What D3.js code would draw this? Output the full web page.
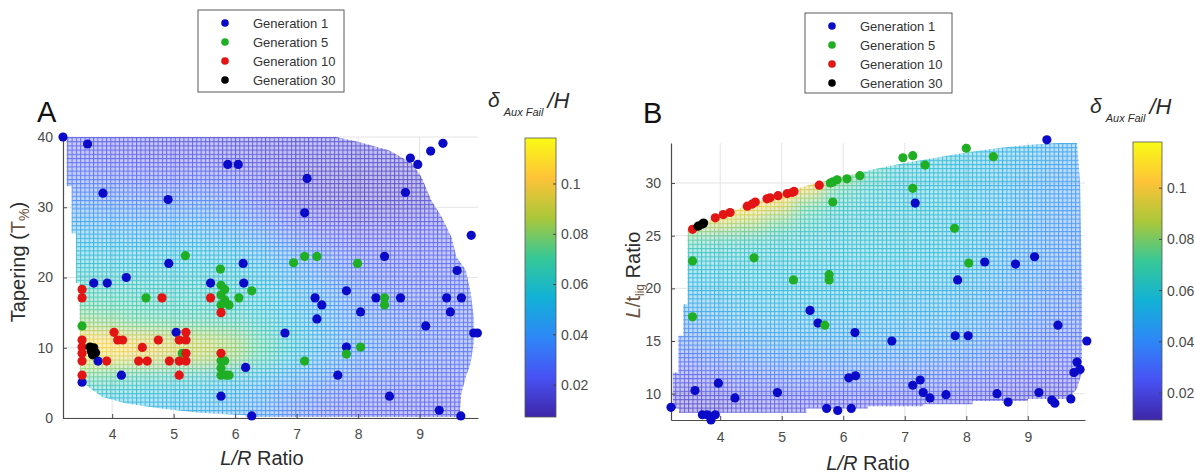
<!DOCTYPE html>
<html><head><meta charset="utf-8">
<script src="https://cdn.jsdelivr.net/npm/d3@7"></script>
<style>
body{margin:0;background:#fff;}
svg{display:block;font-family:"Liberation Sans",Arial,Helvetica,sans-serif;}
</style></head><body>
<svg id="chart" width="1195" height="474"></svg>
<script>
// ---------------- DATA ----------------
const legendLabels = ["Generation 1","Generation 5","Generation 10","Generation 30"];
const xTicks = [4,5,6,7,8,9];
const yTicksA = [0,10,20,30,40];
const yTicksB = [10,15,20,25,30];
const cbTicks = [0.02,0.04,0.06,0.08,0.1];
const cbTickLabels = ["0.02","0.04","0.06","0.08","0.1"];

// coarse grid of the interpolated response surface
const fieldXEdges = [3.2,3.7,4.2,4.7,5.2,5.7,6.2,6.7,7.2,7.7,8.2,8.7,9.2,9.7,10.2];
const fieldYEdgesA = [0,2.5,5,7.5,10,12.5,15,17.5,20,22.5,25,27.5,30,32.5,35,37.5,40];
const fieldYEdgesB = [7.5,9,10.5,12,13.5,15,16.5,18,19.5,21,22.5,24,25.5,27,28.5,30,31.5,33,34.5];
// rows listed top -> bottom
const fieldA = [
 [0.022,0.020,0.019,0.018,0.018,0.017,0.016,0.016,0.016,0.016,0.016,0.016,0.016,0.016],
 [0.025,0.023,0.021,0.020,0.020,0.019,0.017,0.015,0.014,0.014,0.014,0.014,0.015,0.015],
 [0.030,0.028,0.026,0.025,0.026,0.024,0.019,0.015,0.013,0.012,0.012,0.013,0.015,0.015],
 [0.036,0.034,0.032,0.032,0.033,0.030,0.022,0.016,0.013,0.012,0.012,0.014,0.017,0.017],
 [0.043,0.041,0.040,0.040,0.041,0.037,0.029,0.021,0.017,0.015,0.015,0.017,0.020,0.020],
 [0.049,0.048,0.047,0.047,0.047,0.044,0.037,0.029,0.023,0.020,0.020,0.021,0.023,0.023],
 [0.055,0.054,0.053,0.054,0.054,0.052,0.046,0.038,0.030,0.025,0.023,0.023,0.024,0.024],
 [0.059,0.058,0.057,0.057,0.057,0.056,0.051,0.044,0.036,0.029,0.026,0.025,0.025,0.025],
 [0.064,0.063,0.062,0.061,0.061,0.060,0.055,0.048,0.040,0.032,0.028,0.026,0.026,0.026],
 [0.070,0.068,0.066,0.064,0.063,0.062,0.057,0.051,0.043,0.035,0.030,0.027,0.026,0.026],
 [0.080,0.076,0.071,0.068,0.066,0.064,0.059,0.053,0.045,0.037,0.032,0.029,0.027,0.027],
 [0.105,0.103,0.097,0.092,0.087,0.082,0.070,0.057,0.047,0.039,0.034,0.030,0.028,0.028],
 [0.113,0.108,0.100,0.095,0.090,0.083,0.070,0.057,0.046,0.038,0.033,0.030,0.028,0.028],
 [0.075,0.072,0.068,0.065,0.062,0.058,0.052,0.045,0.038,0.032,0.029,0.027,0.026,0.026],
 [0.060,0.058,0.056,0.054,0.052,0.049,0.044,0.037,0.031,0.027,0.025,0.024,0.023,0.023],
 [0.055,0.053,0.051,0.050,0.048,0.045,0.039,0.032,0.027,0.024,0.022,0.021,0.021,0.021]
];
const fieldB = [
 [0.112,0.110,0.108,0.106,0.100,0.085,0.068,0.060,0.058,0.056,0.054,0.052,0.048,0.046],
 [0.112,0.110,0.108,0.106,0.100,0.085,0.068,0.060,0.057,0.055,0.053,0.050,0.046,0.044],
 [0.112,0.110,0.108,0.106,0.100,0.082,0.066,0.059,0.057,0.055,0.053,0.049,0.045,0.042],
 [0.112,0.110,0.108,0.106,0.095,0.068,0.061,0.058,0.057,0.055,0.052,0.048,0.044,0.041],
 [0.112,0.110,0.105,0.095,0.072,0.062,0.059,0.058,0.057,0.055,0.052,0.047,0.043,0.040],
 [0.110,0.095,0.085,0.075,0.064,0.060,0.059,0.058,0.057,0.055,0.051,0.046,0.042,0.039],
 [0.070,0.068,0.065,0.062,0.060,0.059,0.059,0.058,0.057,0.055,0.051,0.045,0.041,0.038],
 [0.062,0.061,0.060,0.059,0.059,0.058,0.058,0.057,0.056,0.054,0.050,0.044,0.040,0.037],
 [0.057,0.058,0.058,0.058,0.057,0.057,0.057,0.056,0.055,0.053,0.049,0.043,0.039,0.036],
 [0.053,0.055,0.056,0.056,0.056,0.056,0.055,0.054,0.053,0.051,0.047,0.042,0.038,0.035],
 [0.048,0.051,0.053,0.054,0.054,0.054,0.053,0.052,0.051,0.049,0.045,0.040,0.036,0.034],
 [0.043,0.047,0.050,0.051,0.051,0.051,0.051,0.050,0.049,0.047,0.043,0.038,0.034,0.032],
 [0.038,0.043,0.046,0.047,0.048,0.048,0.048,0.047,0.046,0.044,0.040,0.035,0.032,0.030],
 [0.033,0.037,0.041,0.043,0.044,0.044,0.044,0.043,0.042,0.040,0.036,0.032,0.029,0.028],
 [0.028,0.031,0.035,0.037,0.038,0.038,0.038,0.037,0.036,0.034,0.031,0.028,0.026,0.025],
 [0.022,0.025,0.028,0.030,0.031,0.031,0.031,0.030,0.029,0.028,0.026,0.024,0.022,0.022],
 [0.017,0.019,0.021,0.023,0.024,0.024,0.024,0.024,0.023,0.022,0.021,0.019,0.018,0.018],
 [0.014,0.016,0.018,0.019,0.020,0.020,0.020,0.020,0.019,0.018,0.017,0.016,0.015,0.015]
];
// outline of the evaluated design region
const regionA = [[3.26,40],[7.64,40],[8.01,39.3],[8.5,38.1],[8.87,36.3],[9.03,34.3],[9.19,31.0],[9.36,28.6],[9.52,25.7],[9.6,22.9],[9.75,21.1],[9.83,17.9],[9.88,14.4],[9.88,10.7],[9.83,7.8],[9.75,5.8],[9.68,3.5],[9.65,0.15],[6.17,0.15],[6.17,0.4],[5.41,0.75],[4.76,1.4],[4.22,2.1],[3.84,3.0],[3.68,4.0],[3.47,5.4],[3.47,19.2],[3.41,19.2],[3.41,26.3],[3.34,26.3],[3.34,33],[3.26,33]];
const regionB = [[3.23,8.6],[3.23,12],[3.32,12],[3.32,15.5],[3.4,15.5],[3.4,18.5],[3.47,18.5],[3.47,25.5],[3.7,26.2],[4.0,26.9],[4.5,28.0],[5.0,29.0],[5.5,29.9],[6.0,30.6],[6.5,31.3],[7.0,31.9],[7.5,32.4],[8.0,32.9],[8.5,33.3],[9.0,33.6],[9.5,33.8],[9.8,33.8],[9.85,30],[9.88,20],[9.88,12],[9.8,10.5],[9.66,9.5],[9.0,9.5],[9.0,9.3],[8.1,9.3],[8.1,9.0],[7.3,9.0],[7.3,8.8],[6.4,8.8],[6.4,8.6],[5.4,8.6],[5.4,8.2],[3.33,8.2],[3.33,8.6]];

// scatter points [L/R, y]
const gen1A = [[3.2,40],[3.6,39],[3.85,32],[3.7,19.2],[3.92,19.2],[4.23,20],[4.92,22],[4.91,31.1],[5.88,36.1],[6.05,36.1],[6.13,22],[9.38,39.1],[9.18,38],[8.85,37],[8.97,36.1],[7.17,34.1],[8.77,32.1],[7.13,29.2],[9.84,26],[8.43,23],[9.61,21],[7.81,18.1],[7.3,17.1],[7.41,16.1],[8.29,17.1],[8.69,17.1],[9.44,17.1],[9.68,17.1],[8.04,15.1],[7.33,14.1],[9.5,15.1],[6.81,12.1],[9.1,13.1],[9.88,12.1],[9.94,12.1],[7.81,10.1],[7.67,6.1],[8.51,3.1],[9.32,1.1],[9.67,0.3],[5.6,19.2],[5.04,12.2],[3.77,8.1],[4.15,6.1],[3.51,5.1],[6.14,19.2],[6.17,7.2],[5.77,3.1],[6.27,0.3]];
const gen5A = [[3.51,13.1],[4.55,17.1],[5.77,18.9],[5.83,18.3],[5.77,17.5],[5.83,16.8],[5.9,16.1],[5.77,16.1],[6.06,17.1],[6.27,18.1],[7.13,8.1],[5.77,8.15],[5.83,8.15],[5.77,7.1],[5.77,6.1],[5.85,6.1],[5.9,6.1],[5.14,9.2],[6.95,22.1],[7.13,23],[7.33,23],[7.99,22],[8.43,17.1],[8.43,16.1],[8.04,10.1],[7.81,9.1],[5.19,23.1],[5.76,21.2]];
const gen10A = [[3.51,18.3],[3.51,17.1],[4.81,17.1],[5.6,17.1],[5.77,15.0],[4.03,12.2],[4.09,11.1],[4.17,11.1],[5.2,12.2],[5.09,11.1],[5.2,11.1],[4.75,11.1],[4.49,10.05],[4.43,8.1],[4.57,8.1],[3.91,8.1],[4.93,8.1],[5.09,8.1],[5.2,8.1],[5.09,6.1],[5.2,9.2],[3.51,11.1],[3.51,10.1],[3.51,9.2],[3.51,8.1],[3.51,6.1],[5.77,9.2]];
const gen30A = [[3.64,10.1],[3.7,10.0],[3.66,9.5],[3.73,9.3],[3.68,9.0]];

const gen1B = [[9.31,34.1],[7.17,28.1],[8.3,22.5],[8.8,22.3],[9.11,23.0],[7.86,20.8],[5.46,17.9],[5.59,16.7],[6.19,15.8],[6.79,15.0],[7.82,15.5],[8.03,15.5],[9.49,16.5],[9.96,15],[3.2,8.7],[3.59,10.3],[3.71,8.0],[3.79,8.0],[3.92,8.0],[3.85,7.5],[4.24,9.6],[4.93,10.1],[5.73,8.6],[5.91,8.4],[6.13,8.6],[7.3,10.1],[7.41,9.6],[7.67,9.9],[8.5,10.0],[8.68,9.2],[9.18,10.1],[9.39,9.4],[9.44,9.1],[9.7,9.5],[3.97,11.0],[6.09,11.5],[6.2,11.7],[7.13,10.8],[7.25,11.3],[9.75,12.0],[9.8,13.0],[9.85,12.3]];
const gen5B = [[3.55,22.6],[3.55,17.3],[4.55,22.9],[5.19,20.8],[5.77,21.3],[5.77,20.8],[5.83,28.2],[5.79,30.0],[5.83,30.1],[5.9,30.3],[6.06,30.4],[6.27,30.7],[6.97,32.4],[7.13,32.6],[7.13,29.5],[7.33,31.7],[8.0,33.3],[8.44,32.5],[7.81,25.7],[8.04,22.4],[5.7,16.5]];
const gen10B = [[3.55,25.6],[3.92,26.7],[4.05,27.0],[4.16,27.2],[4.44,27.8],[4.52,28.0],[4.57,28.2],[4.76,28.5],[4.81,28.6],[4.94,28.8],[5.09,29.0],[5.17,29.1],[5.2,29.2],[5.61,29.8]];
const gen30B = [[3.64,25.9],[3.71,26.1],[3.73,26.2]];

// ---------------- STYLE ----------------
const genColors = ["#0a0ac8","#1fae24","#e31414","#000000"];
// parula colormap key colours (8 evenly spaced)
const parulaStops = [0,1/7,2/7,3/7,4/7,5/7,6/7,1];
const parulaColors = ["rgb(62,38,168)","rgb(72,82,244)","rgb(46,135,247)","rgb(18,177,214)","rgb(55,200,151)","rgb(171,199,57)","rgb(254,195,56)","rgb(249,251,21)"];
const parula = d3.scaleLinear().domain(parulaStops).range(parulaColors).interpolate(d3.interpolateRgb).clamp(true);
const axisCol = "#4a4a4a", textCol = "#4a4a4a", labelCol = "#2b2b2b";

const svg = d3.select("#chart");
const defs = svg.append("defs");

function drawPanel(p){
  const x = d3.scaleLinear().domain(p.xDomain).range([p.left,p.right]);
  const y = d3.scaleLinear().domain(p.yDomain).range([p.bottom,p.top]);
  const cnorm = d3.scaleLinear().domain(p.cDomain).range([0,1]).clamp(true);
  const col = v => parula(cnorm(v));
  const g = svg.append("g");

  // grid
  g.append("g").selectAll("line").data(xTicks).join("line")
    .attr("x1",d=>x(d)).attr("x2",d=>x(d)).attr("y1",p.top).attr("y2",p.bottom)
    .attr("stroke","#e4e4e4").attr("stroke-width",1);
  g.append("g").selectAll("line").data(p.yTicks).join("line")
    .attr("x1",p.left).attr("x2",p.right).attr("y1",d=>y(d)).attr("y2",d=>y(d))
    .attr("stroke","#e4e4e4").attr("stroke-width",1);

  // defs
  const cid = "clip"+p.id;
  defs.append("clipPath").attr("id",cid).append("path")
    .attr("d", d3.line().x(d=>x(d[0])).y(d=>y(d[1])).curve(d3.curveLinearClosed)(p.region));
  const f = defs.append("filter").attr("id","blur"+p.id)
    .attr("x","-10%").attr("y","-10%").attr("width","120%").attr("height","120%")
    .attr("color-interpolation-filters","sRGB");
  f.append("feGaussianBlur").attr("stdDeviation",p.blur);
  f.append("feComponentTransfer").append("feFuncA").attr("type","linear").attr("slope",4).attr("intercept",0);
  const pat = defs.append("pattern").attr("id","mesh"+p.id).attr("patternUnits","userSpaceOnUse")
    .attr("x",p.left).attr("y",p.top).attr("width",p.meshW).attr("height",p.meshH);
  pat.append("path").attr("d",`M0,0.5H${p.meshW}M0.5,0V${p.meshH}`)
    .attr("stroke","#fff").attr("stroke-width",1).attr("fill","none");
  const mask = defs.append("mask").attr("id","mask"+p.id).attr("maskUnits","userSpaceOnUse")
    .attr("x",0).attr("y",0).attr("width",1195).attr("height",474);
  mask.append("rect").attr("x",p.left).attr("y",p.top)
    .attr("width",p.right-p.left).attr("height",p.bottom-p.top).attr("fill",`url(#mesh${p.id})`);

  // cells
  const nRows = p.field.length;
  const cells = [];
  p.field.forEach((row,i)=>row.forEach((v,j)=>cells.push({
    x0:p.xEdges[j], x1:p.xEdges[j+1], y1:p.yEdges[nRows-i], y0:p.yEdges[nRows-i-1], v})));
  function cellLayer(parent){
    parent.selectAll("rect").data(cells).join("rect")
      .attr("x",d=>x(d.x0)).attr("y",d=>y(d.y1))
      .attr("width",d=>x(d.x1)-x(d.x0)+0.6).attr("height",d=>y(d.y0)-y(d.y1)+0.6)
      .attr("fill",d=>col(d.v));
  }
  const fillG = g.append("g").attr("clip-path",`url(#${cid})`).attr("opacity",0.3);
  cellLayer(fillG.append("g").attr("filter",`url(#blur${p.id})`));
  const meshG = g.append("g").attr("clip-path",`url(#${cid})`).attr("mask",`url(#mask${p.id})`).attr("opacity",0.75);
  cellLayer(meshG.append("g").attr("filter",`url(#blur${p.id})`));

  // axes
  const ax = g.append("g").attr("transform",`translate(0,${p.bottom})`)
    .call(d3.axisBottom(x).tickValues(xTicks).tickFormat(d3.format("d")).tickSizeInner(-4).tickSizeOuter(0).tickPadding(p.xPad));
  const ay = g.append("g").attr("transform",`translate(${p.left},0)`)
    .call(d3.axisLeft(y).tickValues(p.yTicks).tickFormat(d3.format("d")).tickSizeInner(-4).tickSizeOuter(0).tickPadding(10));
  [ax,ay].forEach(a=>{
    a.select(".domain").attr("stroke",axisCol).attr("stroke-width",1.2);
    a.selectAll(".tick line").attr("stroke",axisCol);
    a.selectAll("text").attr("fill",textCol).style("font-size","14px").style("font-family","'Liberation Sans',Arial,sans-serif");
  });

  // points
  p.points.forEach((pts,k)=>{
    g.append("g").selectAll("circle").data(pts).join("circle")
      .attr("cx",d=>x(d[0])).attr("cy",d=>y(d[1])).attr("r",4.6)
      .attr("fill",genColors[k]);
  });

  // colorbar
  const cy = d3.scaleLinear().domain(p.cDomain).range([p.cbBottom,p.cbTop]);
  const grad = defs.append("linearGradient").attr("id","grad"+p.id)
    .attr("x1",0).attr("y1",1).attr("x2",0).attr("y2",0);
  grad.selectAll("stop").data(parulaStops).join("stop")
    .attr("offset",d=>d).attr("stop-color",(d,i)=>parulaColors[i]);
  g.append("rect").attr("x",p.cbLeft).attr("y",p.cbTop).attr("width",p.cbW).attr("height",p.cbBottom-p.cbTop)
    .attr("fill",`url(#grad${p.id})`).attr("stroke","#555").attr("stroke-width",0.8);
  g.append("g").selectAll("line").data(cbTicks).join("line")
    .attr("x1",p.cbLeft+p.cbW-3).attr("x2",p.cbLeft+p.cbW).attr("y1",d=>cy(d)).attr("y2",d=>cy(d))
    .attr("stroke","#444");
  g.append("g").selectAll("text").data(cbTicks).join("text")
    .attr("x",p.cbLeft+p.cbW+5).attr("y",d=>cy(d)).attr("dy","0.35em")
    .attr("fill",textCol).style("font-size","14px").text((d,i)=>cbTickLabels[i]);

  // colorbar title  δ_{Aux Fail}/H
  const t = g.append("text").attr("x",p.cbTitleX).attr("y",p.cbTitleY).attr("fill",labelCol)
    .style("font-style","italic");
  t.append("tspan").style("font-size","21px").text("δ");
  t.append("tspan").style("font-size","11px").attr("dx",4).attr("dy",9).text("Aux Fail");
  t.append("tspan").style("font-size","22px").attr("dx",4).attr("dy",-8).text("/H");

  // legend
  const lg = g.append("g");
  lg.append("rect").attr("x",p.legX).attr("y",p.legY).attr("width",p.legW).attr("height",p.legH)
    .attr("fill","#fff").attr("stroke","#5a5a5a").attr("stroke-width",1);
  legendLabels.forEach((lab,k)=>{
    const yy = p.legY + 13 + k*19;
    lg.append("circle").attr("cx",p.legX+27).attr("cy",yy).attr("r",3.8).attr("fill",genColors[k]);
    lg.append("text").attr("x",p.legX+55).attr("y",yy).attr("dy","0.36em")
      .attr("fill","#333").style("font-size","13px").text(lab);
  });

  // panel letter
  g.append("text").attr("x",p.letterX).attr("y",p.letterY).attr("fill","#111")
    .style("font-size","29px").text(p.letter);

  // x label
  const xl = g.append("text").attr("x",p.xLabelX).attr("y",p.xLabelY).attr("text-anchor","middle")
    .attr("fill",labelCol).style("font-size","20px");
  xl.append("tspan").style("font-style","italic").text("L/R");
  xl.append("tspan").text(" Ratio");
  return {x,y};
}

drawPanel({
  id:"A", letter:"A", letterX:37, letterY:122,
  left:63, right:478, top:137, bottom:418,
  xDomain:[3.2,9.95], yDomain:[0,40], yTicks:yTicksA, xPad:11,
  field:fieldA, xEdges:fieldXEdges, yEdges:fieldYEdgesA, region:regionA,
  blur:9, meshW:4.3, meshH:4.2,
  points:[gen1A,gen5A,gen10A,gen30A],
  cDomain:[0.0073,0.1183], cbLeft:525, cbW:31, cbTop:138, cbBottom:417,
  cbTitleX:488, cbTitleY:107,
  legX:198, legY:10, legW:146, legH:82,
  xLabelX:262, xLabelY:465
});
drawPanel({
  id:"B", letter:"B", letterX:643, letterY:123,
  left:671, right:1085, top:143, bottom:420,
  xDomain:[3.2,9.93], yDomain:[7.5,33.8], yTicks:yTicksB, xPad:12,
  field:fieldB, xEdges:fieldXEdges, yEdges:fieldYEdgesB, region:regionB,
  blur:8, meshW:4.3, meshH:4.2,
  points:[gen1B,gen5B,gen10B,gen30B],
  cDomain:[0.0095,0.118], cbLeft:1133, cbW:29, cbTop:142, cbBottom:420,
  cbTitleX:1090, cbTitleY:113,
  legX:805, legY:13, legW:147, legH:80,
  xLabelX:868, xLabelY:470
});

// y-axis labels
const ylA = svg.append("text").attr("transform","translate(25,262) rotate(-90)")
  .attr("text-anchor","middle").attr("fill",labelCol).style("font-size","20px");
ylA.append("tspan").text("Tapering (");
ylA.append("tspan").attr("fill","#6b5340").text("T");
ylA.append("tspan").attr("fill","#6b5340").style("font-size","14px").attr("dy",4).text("%");
ylA.append("tspan").attr("dy",-4).text(")");

const ylB = svg.append("text").attr("transform","translate(640,275) rotate(-90)")
  .attr("text-anchor","middle").attr("fill",labelCol).style("font-size","20px");
ylB.append("tspan").attr("fill","#6b5340").style("font-style","italic").text("L");
ylB.append("tspan").attr("fill","#6b5340").text("/t");
ylB.append("tspan").attr("fill","#6b5340").style("font-size","12px").attr("dy",4).text("lig");
ylB.append("tspan").attr("dy",-4).text(" Ratio");
</script>
</body></html>
